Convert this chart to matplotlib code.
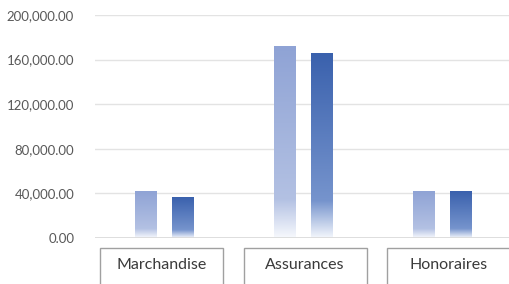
import numpy as np
import matplotlib.pyplot as plt
from matplotlib.patches import Rectangle
from matplotlib.colors import LinearSegmentedColormap
import matplotlib.transforms as mtransforms

categories = ['Marchandise', 'Assurances', 'Honoraires']
serie_1 = [42000, 171500, 42000]
serie_2 = [36000, 165500, 42000]
y_ticks = [0, 40000, 80000, 120000, 160000, 200000]

plt.rcParams['font.family'] = ['Lato', 'DejaVu Sans']

fig = plt.figure(figsize=(5.10, 2.84), dpi=100)
ax = fig.add_axes([95 / 510, 46 / 284, 417 / 510, 223 / 284])

x = np.arange(len(categories))
off = 0.135
w = 0.158

# degrade vertical : couleur en haut, blanc en bas
cmap_1 = LinearSegmentedColormap.from_list(
    'c1', [(0.0, '#f7f9fd'), (0.2, '#b3c1e3'), (1.0, '#8fa3d5')])
cmap_2 = LinearSegmentedColormap.from_list(
    'c2', [(0.0, '#f3f6fc'), (0.2, '#7694cd'), (1.0, '#3a61ad')])
grad = np.linspace(0, 1, 256).reshape(-1, 1)

for vals, dx, cmap in [(serie_1, -off, cmap_1), (serie_2, off, cmap_2)]:
    bars = ax.bar(x + dx, vals, width=w, color='none', edgecolor='none', zorder=3)
    for b in bars:
        x0 = b.get_x()
        ax.imshow(grad, cmap=cmap, origin='lower', aspect='auto',
                  extent=(x0, x0 + b.get_width(), 0, b.get_height()),
                  zorder=3, interpolation='bilinear')

ax.set_xlim(-0.5, 2.5)
ax.set_ylim(0, 200000)
ax.set_yticks(y_ticks)
ax.set_yticklabels([f'{v:,.2f}' for v in y_ticks])
ax.set_xticks([])
ax.tick_params(axis='y', length=0, pad=15, labelsize=9.5, labelcolor='#595959')
for s in ax.spines.values():
    s.set_visible(False)
ax.grid(axis='y', color='#e3e3e3', linewidth=1.0, zorder=0)
ax.axhline(0, color='#d9d9d9', linewidth=1.2, zorder=4)
ax.set_facecolor('white')

# boites des categories sous l'axe
trans = mtransforms.blended_transform_factory(ax.transData, fig.transFigure)
for i, cat in enumerate(categories):
    cx = i * 1.032 - 0.02
    ax.add_patch(Rectangle((cx - 0.443, -0.1), 0.886, 0.227, transform=trans,
                           facecolor='white', edgecolor='#a0a0a0', linewidth=1.0,
                           clip_on=False))
    ax.text(cx, 0.067, cat, transform=trans, ha='center', va='center',
            fontsize=11.5, color='#3a3a3a')

fig.savefig('out.png', dpi=100)
